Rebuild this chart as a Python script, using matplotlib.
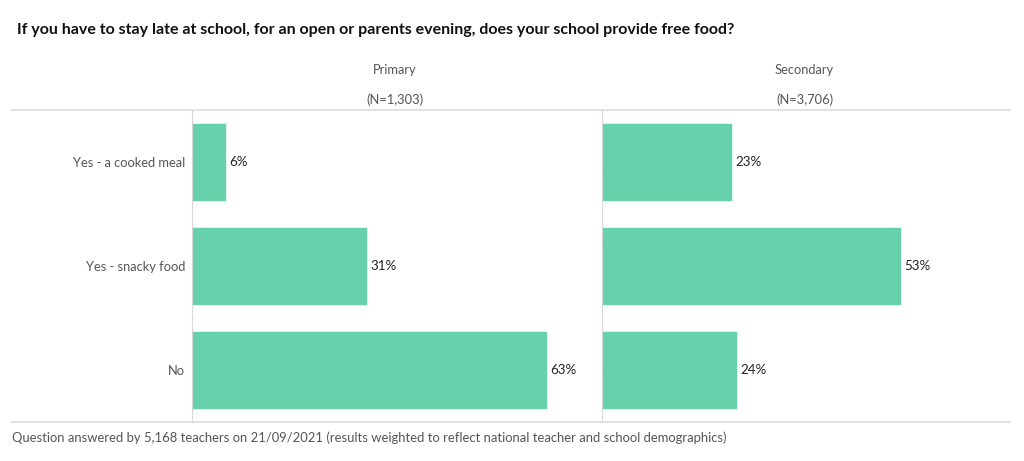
import matplotlib
matplotlib.use('Agg')
import matplotlib.pyplot as plt
from matplotlib.lines import Line2D

plt.rcParams['font.family'] = ['Lato', 'DejaVu Sans']

categories = ['Yes - a cooked meal', 'Yes - snacky food', 'No']
panels = ['Primary', 'Secondary']
panel_n = ['(N=1,303)', '(N=3,706)']
values = {
    'Primary':   [6, 31, 63],
    'Secondary': [23, 53, 24],
}

title = 'If you have to stay late at school, for an open or parents evening, does your school provide free food?'
footer = 'Question answered by 5,168 teachers on 21/09/2021 (results weighted to reflect national teacher and school demographics)'

bar_color = '#66d1aa'
W, H = 1024, 461

fig = plt.figure(figsize=(W / 100, H / 100), dpi=100, facecolor='white')

ax_bottom = (H - 422) / H
ax_height = 312 / H
lefts = [192 / W, 602 / W]
width = 405 / W

for i, name in enumerate(panels):
    ax = fig.add_axes([lefts[i], ax_bottom, width, ax_height])
    vals = values[name]
    y = range(len(categories))
    ax.barh(y, vals, height=0.75, color=bar_color, edgecolor='#e8f7f1', linewidth=0.6)
    for yi, v in zip(y, vals):
        ax.text(v + 0.6, yi, f'{v}%', va='center', ha='left', fontsize=9.6, color='#222222')
    ax.set_xlim(0, 71.8)
    ax.set_ylim(len(categories) - 0.5, -0.5)
    ax.set_xticks([])
    ax.set_yticks(list(y))
    if i == 0:
        ax.set_yticklabels(categories, fontsize=9.3, color='#555555')
    else:
        ax.set_yticklabels([])
    ax.tick_params(axis='y', length=0, pad=5)
    for s in ['top', 'right', 'bottom']:
        ax.spines[s].set_visible(False)
    ax.spines['left'].set_color('#cfcfcf')
    ax.spines['left'].set_linestyle((0, (1, 1.5)))
    ax.spines['left'].set_linewidth(0.8)

    cx = lefts[i] + width / 2
    fig.text(cx, 1 - 70 / H, name, ha='center', va='center', fontsize=9.3, color='#555555')
    fig.text(cx, 1 - 100 / H, panel_n[i], ha='center', va='center', fontsize=9.3, color='#555555')

# horizontal separators
for yy in [110, 422]:
    fig.add_artist(Line2D([12 / W, 1010 / W], [1 - yy / H, 1 - yy / H],
                          color='#dddddd', linewidth=1.2, transform=fig.transFigure))

fig.text(17 / W, 1 - 30 / H, title, ha='left', va='center', fontsize=11.5,
         fontweight='bold', color='#111111')
fig.text(12 / W, 1 - 438 / H, footer, ha='left', va='center', fontsize=9.4, color='#555555')

fig.savefig('out.png', dpi=100, facecolor='white')
